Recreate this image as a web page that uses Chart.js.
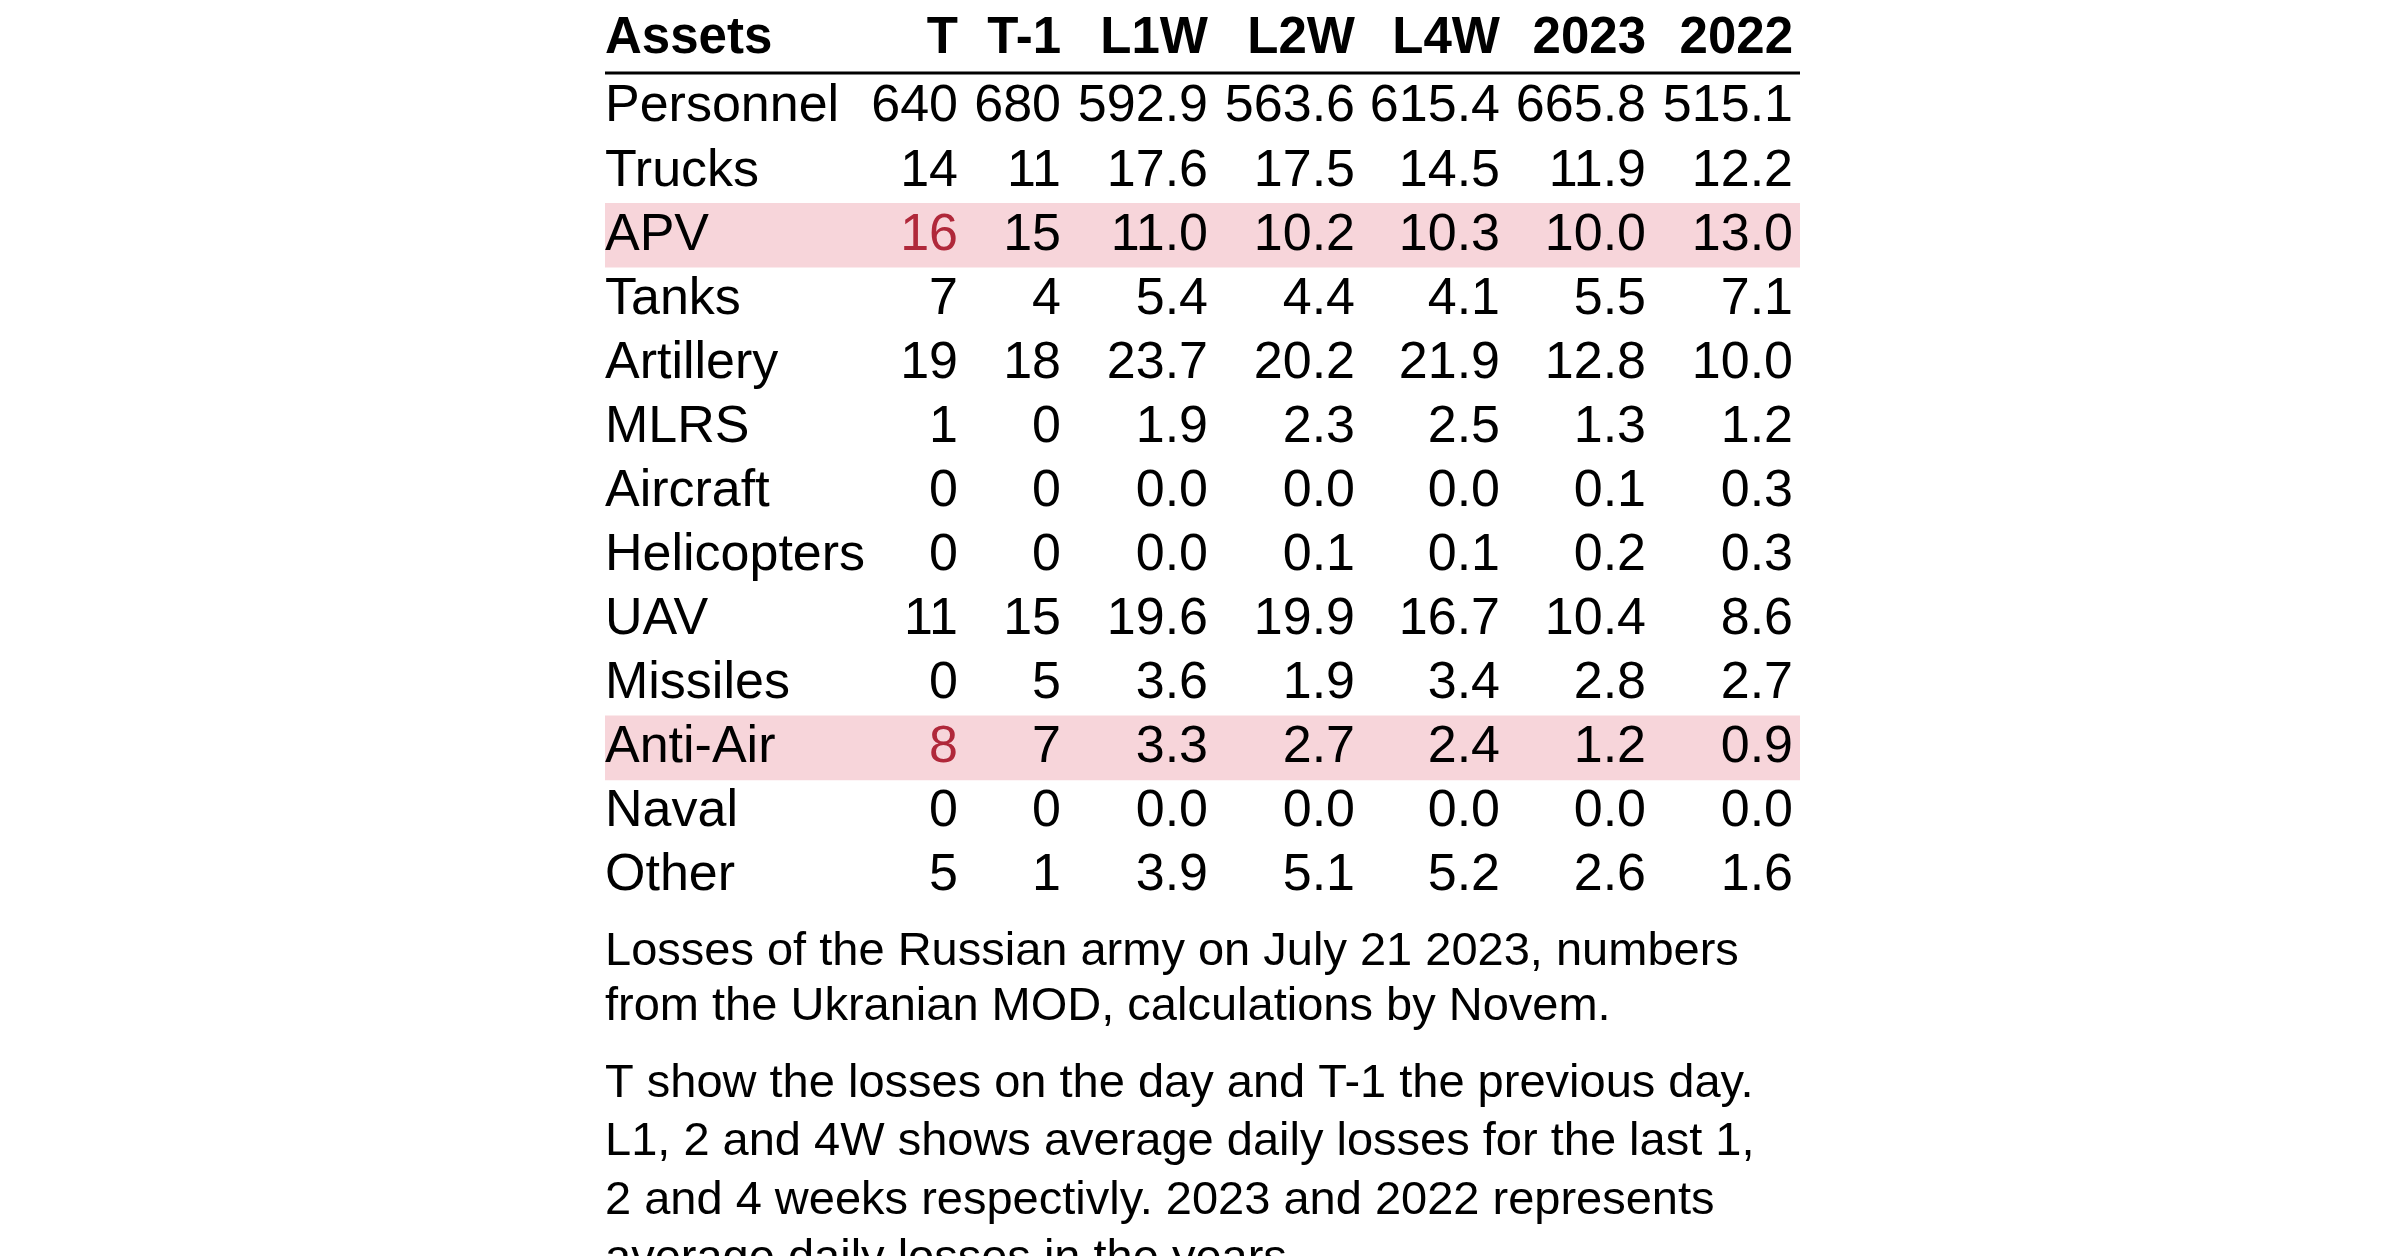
<!DOCTYPE html>
<html>
<head>
<meta charset="utf-8">
<script src="https://cdn.jsdelivr.net/npm/chart.js@4"></script>
<style>
  html, body { margin: 0; padding: 0; background: #fff; }
  #wrap { width: 2400px; height: 1256px; position: relative; }
</style>
</head>
<body>
<div id="wrap"><canvas id="lossTable"></canvas></div>
<script>
// --------------------------
// Data
// --------------------------
const columns = ["T", "T-1", "L1W", "L2W", "L4W", "2023", "2022"];
const assets = ["Personnel", "Trucks", "APV", "Tanks", "Artillery", "MLRS", "Aircraft",
  "Helicopters", "UAV", "Missiles", "Anti-Air", "Naval", "Other"];
const valuesT = ["640", "14", "16", "7", "19", "1", "0", "0", "11", "0", "8", "0", "5"];
const valuesT1 = ["680", "11", "15", "4", "18", "0", "0", "0", "15", "5", "7", "0", "1"];
const valuesL1W = ["592.9", "17.6", "11.0", "5.4", "23.7", "1.9", "0.0", "0.0", "19.6", "3.6", "3.3", "0.0", "3.9"];
const valuesL2W = ["563.6", "17.5", "10.2", "4.4", "20.2", "2.3", "0.0", "0.1", "19.9", "1.9", "2.7", "0.0", "5.1"];
const valuesL4W = ["615.4", "14.5", "10.3", "4.1", "21.9", "2.5", "0.0", "0.1", "16.7", "3.4", "2.4", "0.0", "5.2"];
const values2023 = ["665.8", "11.9", "10.0", "5.5", "12.8", "1.3", "0.1", "0.2", "10.4", "2.8", "1.2", "0.0", "2.6"];
const values2022 = ["515.1", "12.2", "13.0", "7.1", "10.0", "1.2", "0.3", "0.3", "8.6", "2.7", "0.9", "0.0", "1.6"];
const highlighted = ["APV", "Anti-Air"];
const caption1 = ["Losses of the Russian army on July 21 2023, numbers",
  "from the Ukranian MOD, calculations by Novem."];
const caption2 = ["T show the losses on the day and T-1 the previous day.",
  "L1, 2 and 4W shows average daily losses for the last 1,",
  "2 and 4 weeks respectivly. 2023 and 2022 represents",
  "average daily losses in the years."];

const valueCols = [valuesT, valuesT1, valuesL1W, valuesL2W, valuesL4W, values2023, values2022];
const rowLabels = ["Assets"].concat(assets);

// layout (pixel offsets from table left edge)
const tableWidth = 1195;
const colRight = [353, 456, 603, 750, 895, 1041, 1188];
const font = "'Liberation Sans', Arial, sans-serif";

// --------------------------
// Table drawing plugin
// --------------------------
const tablePlugin = {
  id: "tableText",
  afterDatasetsDraw(chart) {
    const { ctx, chartArea } = chart;
    const x = chart.scales.x;
    const y = chart.scales.y;
    ctx.save();
    ctx.textBaseline = "middle";

    // header
    ctx.fillStyle = "#000";
    ctx.font = "bold 51px " + font;
    ctx.textAlign = "left";
    const hy = y.getPixelForValue(0) - 4;
    ctx.fillText("Assets", x.getPixelForValue(0), hy);
    ctx.textAlign = "right";
    columns.forEach((c, j) => ctx.fillText(c, x.getPixelForValue(colRight[j]), hy));

    // header rule
    const ly = hy + 34;
    ctx.lineWidth = 3;
    ctx.strokeStyle = "#000";
    ctx.beginPath();
    ctx.moveTo(chartArea.left, ly);
    ctx.lineTo(chartArea.right, ly);
    ctx.stroke();

    // body rows
    ctx.font = "52px " + font;
    assets.forEach((a, i) => {
      const ry = y.getPixelForValue(i + 1);
      ctx.textAlign = "left";
      ctx.fillStyle = "#000";
      ctx.fillText(a, x.getPixelForValue(0), ry);
      ctx.textAlign = "right";
      valueCols.forEach((vals, j) => {
        ctx.fillStyle = (j === 0 && highlighted.includes(a)) ? "#b0283a" : "#000";
        ctx.fillText(vals[i], x.getPixelForValue(colRight[j]), ry);
      });
    });

    // captions
    ctx.font = "47px " + font;
    ctx.textAlign = "left";
    ctx.fillStyle = "#000";
    const left = chartArea.left;
    caption1.forEach((t, k) => ctx.fillText(t, left, chartArea.bottom + 44 + k * 55));
    caption2.forEach((t, k) => ctx.fillText(t, left, chartArea.bottom + 176 + k * 58.5));
    ctx.restore();
  },
};

// --------------------------
// Chart
// --------------------------
new Chart(document.getElementById("lossTable"), {
  type: "bar",
  data: {
    labels: rowLabels,
    datasets: [
      {
        data: rowLabels.map((r) => (highlighted.includes(r) ? [0, tableWidth] : null)),
        backgroundColor: "#f7d5da",
        categoryPercentage: 1,
        barPercentage: 1,
      },
    ],
  },
  options: {
    indexAxis: "y",
    responsive: true,
    maintainAspectRatio: false,
    animation: false,
    devicePixelRatio: 1,
    layout: { padding: { left: 605, right: 600, top: 11, bottom: 348 } },
    plugins: { legend: { display: false }, tooltip: { enabled: false } },
    scales: {
      x: { type: "linear", min: 0, max: tableWidth, display: false },
      y: { type: "category", display: false, offset: true },
    },
  },
  plugins: [tablePlugin],
});
</script>
</body>
</html>
